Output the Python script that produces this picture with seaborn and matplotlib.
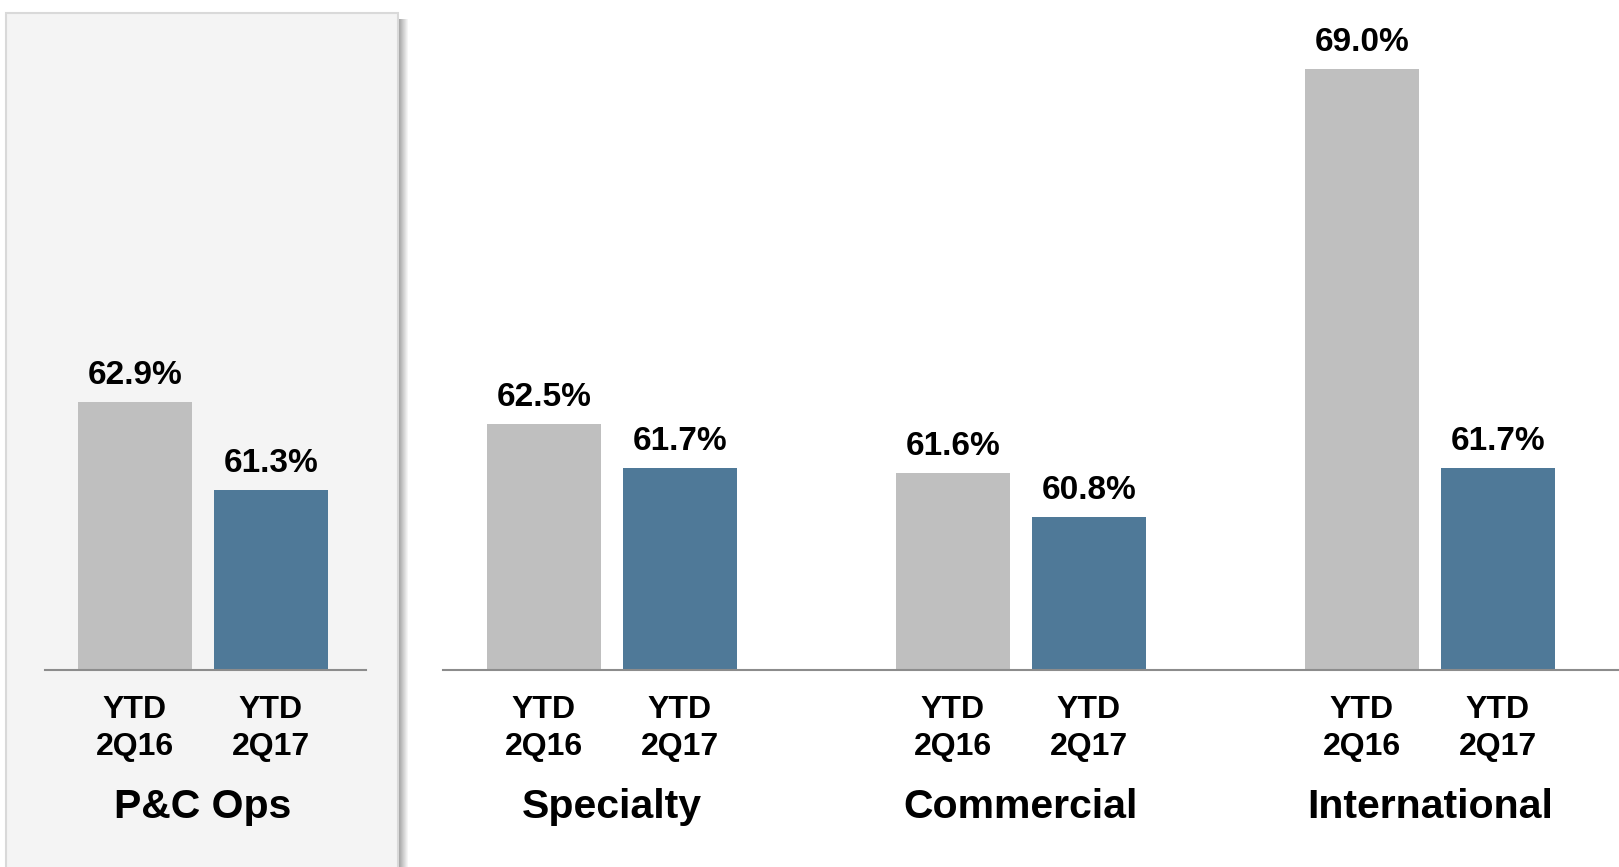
import matplotlib
matplotlib.use("Agg")
import matplotlib.pyplot as plt
from matplotlib.patches import Rectangle
import seaborn as sns
import pandas as pd

# ---- data ----
segments = ["P&C Ops", "Specialty", "Commercial", "International"]
periods = ["YTD\n2Q16", "YTD\n2Q17"]
ytd_2q16 = [62.9, 62.5, 61.6, 69.0]
ytd_2q17 = [61.3, 61.7, 60.8, 61.7]
colors = ["#bfbfbf", "#4f7998"]

sns.set_theme(style="white")
plt.rcParams["font.family"] = ["Liberation Sans", "DejaVu Sans"]
plt.rcParams["font.weight"] = "bold"

rows = []
for s, a, b in zip(segments, ytd_2q16, ytd_2q17):
    rows.append({"segment": s, "period": periods[0], "value": a})
    rows.append({"segment": s, "period": periods[1], "value": b})
df = pd.DataFrame(rows)

W, H = 1619, 867
fig = plt.figure(figsize=(W / 100, H / 100), dpi=100)
fig.patch.set_facecolor("white")

# highlight box behind the first panel (figure pixel geometry)
bx0, bx1, btop = 6, 398, 13
for i in range(10):
    g = 0.62 + 0.038 * i
    fig.add_artist(Rectangle(((bx1 + i) / W, -0.01), 1.2 / W, (H - btop - 6) / H + 0.01,
                             transform=fig.transFigure, facecolor=(g, g, g),
                             edgecolor="none", zorder=-3))
fig.add_artist(Rectangle((bx0 / W, -0.01), (bx1 - bx0) / W, (H - btop) / H + 0.01,
                         transform=fig.transFigure, facecolor="#f4f4f4",
                         edgecolor="#d9d9d9", linewidth=1.5, zorder=-2))

baseline_px = 670
px_per_unit = 54.63
ymin = 58.0
ymax = ymin + baseline_px / px_per_unit
group_px = 409.0


def make_axes(x0_px, x1_px, center_px):
    ax = fig.add_axes([x0_px / W, (H - baseline_px) / H, (x1_px - x0_px) / W, baseline_px / H])
    ax.set_facecolor("none")
    ax.set_xlim((x0_px - center_px) / group_px, (x1_px - center_px) / group_px)
    return ax


ax_l = make_axes(45, 366, 203)
ax_r = make_axes(443, 1619, 612)

for ax, sub in [(ax_l, df[df.segment == segments[0]]), (ax_r, df[df.segment != segments[0]])]:
    xlim = ax.get_xlim()
    sns.barplot(data=sub, x="segment", y="value", hue="period", hue_order=periods,
                palette=colors, saturation=1, width=0.665, gap=0.162, linewidth=0,
                legend=False, errorbar=None, ax=ax)
    ax.set_xlim(*xlim)
    ax.set_ylim(ymin, ymax)
    ax.set_xlabel("")
    ax.set_ylabel("")
    ax.set_yticks([])
    for side in ["left", "right", "top"]:
        ax.spines[side].set_visible(False)
    ax.spines["bottom"].set_color("#8c8c8c")
    ax.spines["bottom"].set_linewidth(1.5)

    minor_pos, minor_lab = [], []
    for i, cont in enumerate(ax.containers):
        ax.bar_label(cont, fmt="{:.1f}%", padding=8, fontsize=24,
                     fontweight="bold", color="black")
        for p in cont.patches:
            minor_pos.append(p.get_x() + p.get_width() / 2)
            minor_lab.append(periods[i])
    ax.set_xticks(minor_pos, minor_lab, minor=True, fontsize=23,
                  fontweight="bold", linespacing=1.3, color="black")
    ax.tick_params(axis="x", which="minor", length=0, pad=18)
    ax.tick_params(axis="x", which="major", length=0, pad=85, labelsize=29.5,
                   labelcolor="black")
    for lbl in ax.get_xticklabels():
        lbl.set_fontweight("bold")

fig.savefig("out.png", dpi=100)
